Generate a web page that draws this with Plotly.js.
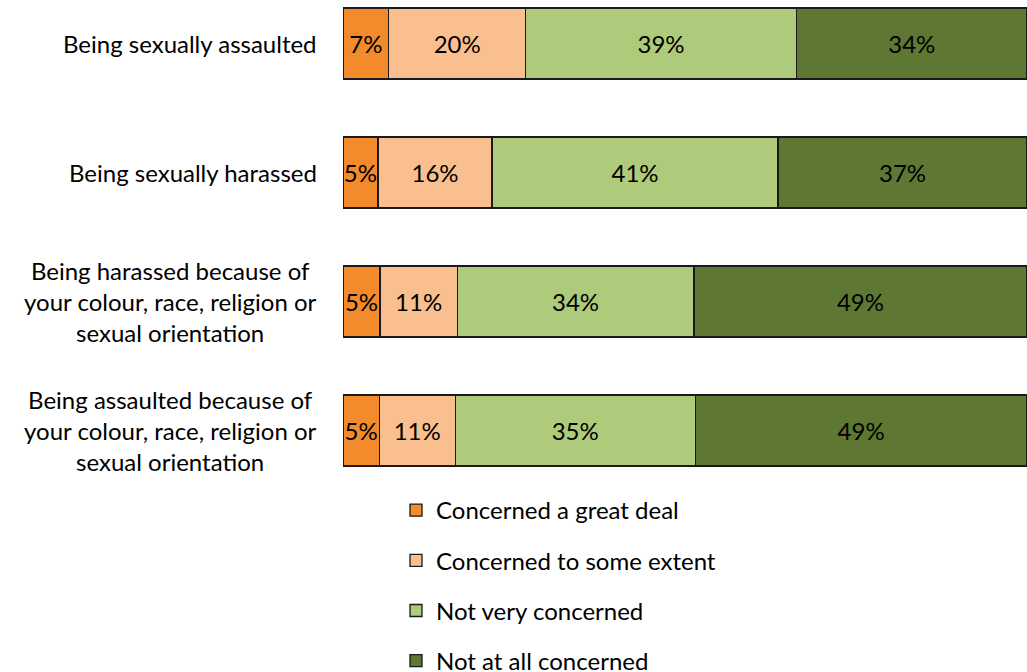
<!DOCTYPE html>
<html>
<head>
<meta charset="utf-8">
<script src="https://cdn.plot.ly/plotly-3.0.1.min.js"></script>
<style>html,body{margin:0;padding:0;background:#fff;}#chart{width:1027px;height:672px;}</style>
</head>
<body>
<div id="chart"></div>
<script>
const categories = [
  "Being sexually assaulted",
  "Being sexually harassed",
  "Being harassed because of<br>your colour, race, religion or<br>sexual orientation",
  "Being assaulted because of<br>your colour, race, religion or<br>sexual orientation"
];
const seriesNames = ["Concerned a great deal", "Concerned to some extent", "Not very concerned", "Not at all concerned"];
// segment sizes as measured from the bars
const greatDeal   = [6.7, 5.1, 5.4, 5.3];
const someExtent  = [20.0, 16.7, 11.3, 11.1];
const notVery     = [39.6, 41.8, 34.6, 35.1];
const notAtAll    = [33.7, 36.4, 48.7, 48.5];
// printed labels
const greatDealLbl  = ["7%", "5%", "5%", "5%"];
const someExtentLbl = ["20%", "16%", "11%", "11%"];
const notVeryLbl    = ["39%", "41%", "34%", "35%"];
const notAtAllLbl   = ["34%", "37%", "49%", "49%"];

const colors = ["#F38A2B", "#F9BF8F", "#AECA7B", "#5E7732"];
const FONT = "Lato, 'Open Sans', sans-serif";
const FS = 24;
const values = [greatDeal, someExtent, notVery, notAtAll];
const labels = [greatDealLbl, someExtentLbl, notVeryLbl, notAtAllLbl];

const traces = seriesNames.map((name, i) => ({
  type: "bar",
  orientation: "h",
  name: name,
  legendgroup: "g" + i,
  x: values[i],
  y: categories,
  text: labels[i],
  textposition: "inside",
  insidetextanchor: "middle",
  constraintext: "none",
  textangle: 0,
  textfont: {family: FONT, size: FS, color: "#000"},
  marker: {color: colors[i], line: {color: "#1a1a1a", width: 1.3}},
  hoverinfo: "skip"
}));

const annotations = categories.map(c => ({
  x: 0, xref: "paper", y: c, yref: "y",
  xanchor: "right", yanchor: "middle", xshift: -24,
  text: c, align: "center", showarrow: false,
  font: {family: FONT, size: FS, color: "#000"}
}));

const layout = {
  width: 1027, height: 672,
  margin: {l: 343, r: 0, t: 0, b: 156, autoexpand: false},
  barmode: "stack",
  bargap: 0.45,
  paper_bgcolor: "#fff", plot_bgcolor: "#fff",
  font: {family: FONT, size: FS, color: "#000"},
  xaxis: {range: [0, 100], visible: false, fixedrange: true},
  yaxis: {type: "category", range: [3.663, -0.337], showticklabels: false, showgrid: false, zeroline: false, showline: false, ticks: ""},
  showlegend: true,
  legend: {
    orientation: "v", traceorder: "grouped", tracegroupgap: 16,
    xref: "container", yref: "container",
    x: 396 / 1027, y: 1 - 488 / 672, xanchor: "left", yanchor: "top",
    font: {family: FONT, size: FS, color: "#000"},
    bgcolor: "rgba(0,0,0,0)"
  },
  annotations: annotations
};

Plotly.newPlot("chart", traces, layout, {displayModeBar: false, staticPlot: true});
</script>
</body>
</html>
